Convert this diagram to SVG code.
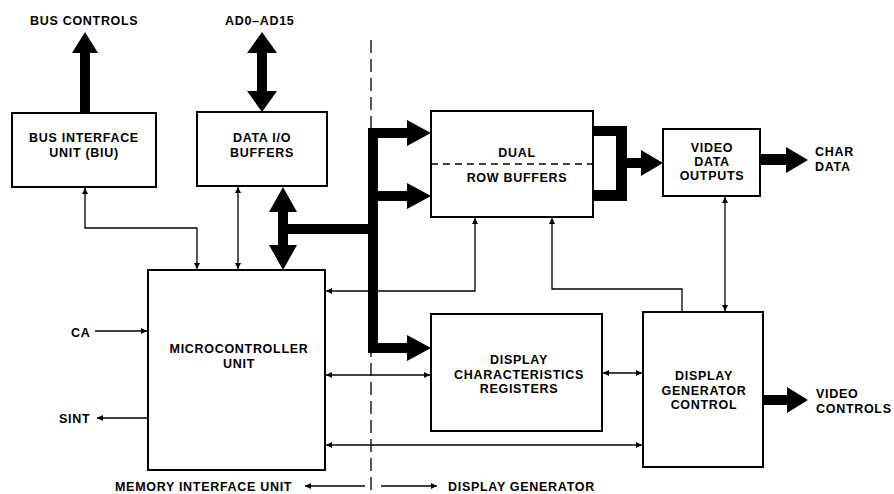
<svg xmlns="http://www.w3.org/2000/svg" width="894" height="494" viewBox="0 0 894 494">
<style>
.box{fill:#fff;stroke:#000;stroke-width:2}
.t{font-family:"Liberation Sans",Arial,sans-serif;font-weight:bold;font-size:12.5px;letter-spacing:0.7px;fill:#000}
.c{text-anchor:middle}
.ln{fill:none;stroke:#000;stroke-width:1.3}
.bi{marker-start:url(#ah);marker-end:url(#ah)}
.en{marker-end:url(#ah)}
.bus{fill:#000;stroke:none}
</style>
<defs>
<marker id="ah" viewBox="0 0 10 10" refX="10" refY="5" markerWidth="8" markerHeight="6" markerUnits="userSpaceOnUse" orient="auto-start-reverse">
<path d="M0,0 L10,5 L0,10 z" fill="#000"/>
</marker>
</defs>
<rect width="894" height="494" fill="#fff"/>

<g id="connectors">
<path d="M371,40 V494" fill="none" stroke="#000" stroke-width="1.3" stroke-dasharray="13,6"/>
<!-- thick buses -->
<polygon class="bus" points="80,113 80,53 72,53 85,32 98,53 90,53 90,113"/>
<polygon class="bus" points="262,32 277,53 267,53 267,91 277,91 262,112 247,91 257,91 257,53 247,53"/>
<polygon class="bus" points="283,187 297,212 288,212 288,245 297,245 283,270 269,245 278,245 278,212 269,212"/>
<rect class="bus" x="288" y="224" width="90" height="10"/>
<rect class="bus" x="368" y="128" width="10" height="225"/>
<polygon class="bus" points="378,128 407,128 407,120 431,133 407,146 407,138 378,138"/>
<polygon class="bus" points="378,191 407,191 407,183 431,196 407,209 407,201 378,201"/>
<polygon class="bus" points="378,343 407,343 407,335 431,348 407,361 407,353 378,353"/>
<polygon class="bus" points="593,126 627,126 627,158 641,158 641,150 663,163 641,176 641,168 627,168 627,201 593,201 593,190 616,190 616,136 593,136"/>
<polygon class="bus" points="760,154 786,154 786,147 808,160 786,173 786,165 760,165"/>
<polygon class="bus" points="763,395 787,395 787,387 808,400 787,413 787,405 763,405"/>
<!-- thin lines -->
<path class="ln bi" d="M85,188 V228 H197 V269"/>
<path class="ln bi" d="M238,187 V269"/>
<path class="ln bi" d="M475,218 V291 H326"/>
<path class="ln en" d="M682,311 V289 H552 V218"/>
<path class="ln bi" d="M326,375 H430"/>
<path class="ln bi" d="M326,445 H642"/>
<path class="ln bi" d="M603,373 H642"/>
<path class="ln bi" d="M725,197 V311"/>
<path class="ln en" d="M95,331 H147"/>
<path class="ln en" d="M148,418 H97"/>
<path class="ln en" d="M365,486 H305"/>
<path class="ln en" d="M381,486 H437"/>
</g>

<g id="labels">
<text class="t" x="30" y="25">BUS CONTROLS</text>
<text class="t" x="225" y="25">AD0–AD15</text>
<text class="t" x="71" y="337">CA</text>
<text class="t" x="59" y="423">SINT</text>
<text class="t" x="815" y="156">CHAR</text>
<text class="t" x="815" y="171">DATA</text>
<text class="t" x="816" y="398">VIDEO</text>
<text class="t" x="816" y="413">CONTROLS</text>
<text class="t" x="115" y="491">MEMORY INTERFACE UNIT</text>
<text class="t" x="448" y="491">DISPLAY GENERATOR</text>
</g>

<g id="biu">
<rect class="box" x="12" y="113" width="144" height="74"/>
<text class="t c" x="84" y="142">BUS INTERFACE</text>
<text class="t c" x="84" y="157">UNIT (BIU)</text>
</g>

<g id="dataio">
<rect class="box" x="197" y="112" width="130" height="74"/>
<text class="t c" x="262" y="142">DATA I/O</text>
<text class="t c" x="262" y="157">BUFFERS</text>
</g>

<g id="dual">
<rect class="box" x="431" y="111" width="162" height="106"/>
<path d="M431,164 H593" fill="none" stroke="#000" stroke-width="1.3" stroke-dasharray="7,5"/>
<text class="t c" x="517" y="157">DUAL</text>
<text class="t c" x="517" y="182">ROW BUFFERS</text>
</g>

<g id="vdo">
<rect class="box" x="663" y="129" width="97" height="67"/>
<text class="t c" x="712" y="152">VIDEO</text>
<text class="t c" x="712" y="166">DATA</text>
<text class="t c" x="712" y="180">OUTPUTS</text>
</g>

<g id="mcu">
<rect class="box" x="148" y="270" width="177" height="200"/>
<text class="t c" x="239" y="353">MICROCONTROLLER</text>
<text class="t c" x="239" y="368">UNIT</text>
</g>

<g id="dcr">
<rect class="box" x="431" y="314" width="171" height="117"/>
<text class="t c" x="519" y="364">DISPLAY</text>
<text class="t c" x="519" y="379">CHARACTERISTICS</text>
<text class="t c" x="519" y="393">REGISTERS</text>
</g>

<g id="dgc">
<rect class="box" x="643" y="312" width="120" height="155"/>
<text class="t c" x="704" y="380">DISPLAY</text>
<text class="t c" x="704" y="395">GENERATOR</text>
<text class="t c" x="704" y="409">CONTROL</text>
</g>
</svg>
